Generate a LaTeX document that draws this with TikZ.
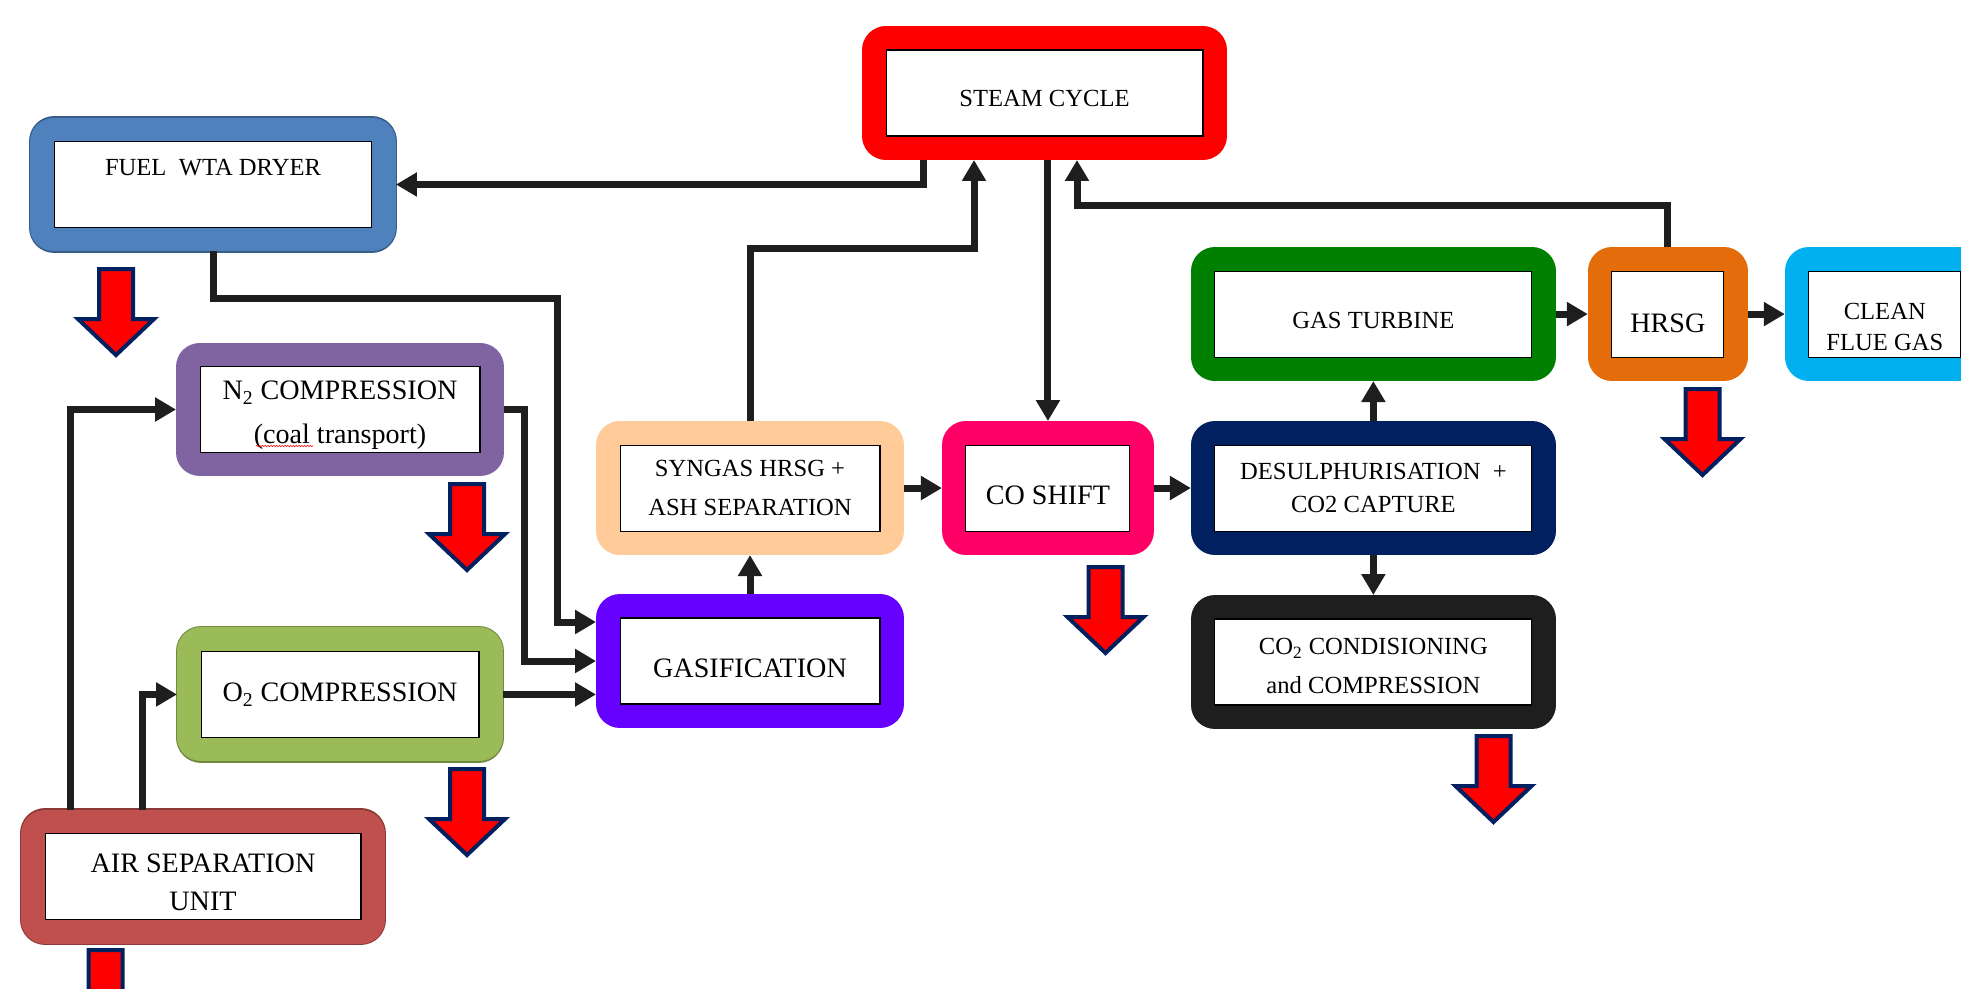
\documentclass[tikz,border=0pt]{standalone}
\usepackage{fontspec}
\setmainfont{Liberation Serif}
\usetikzlibrary{
  arrows.meta,  % Tip "Triangle"
  positioning,  % Function "of" (e.g. [right=of x])
  decorations.pathmorphing  % Decoration "snake"
}
\definecolor{fuelblue}{HTML}{4F81BD}
\definecolor{fueledge}{HTML}{385D8A}
\definecolor{steamred}{HTML}{FF0000}
\definecolor{ntwopurple}{HTML}{8064A2}
\definecolor{otwogreen}{HTML}{9BBB59}
\definecolor{otwoedge}{HTML}{71893F}
\definecolor{asured}{HTML}{C0504D}
\definecolor{asuedge}{HTML}{8C3836}
\definecolor{syngaspeach}{HTML}{FFCC99}
\definecolor{shiftpink}{HTML}{FF0066}
\definecolor{gasviolet}{HTML}{6600FF}
\definecolor{turbinegreen}{HTML}{008000}
\definecolor{hrsgorange}{HTML}{E46C0A}
\definecolor{cleanblue}{HTML}{00B0F0}
\definecolor{desulphnavy}{HTML}{002060}
\definecolor{condblack}{HTML}{1E1E1E}
\definecolor{flowgray}{HTML}{1E1E1E}
\def\myframe{0.96cm}
\def\mywide{6.34cm}
% strut that pushes the text of a box down
\def\dn#1{\rule{0pt}{#1pt}}
% heat loss arrow, (x,y) is the top of its shaft
\def\heatout(#1,#2){\draw[heat] (#1,#2) ++(-17,2) -- ++(34,0) -- ++(0,50)
  -- ++(21,0) -- ++(-38,36) -- ++(-38,-36) -- ++(21,0) -- cycle;}
\tikzset{
  font=\fontsize{14}{20}\selectfont,
  >={Triangle[length=0.42cm,width=0.46cm]},
  unit/.style={
    rectangle,
    draw=black,
    line width=0.6pt,
    fill=white,
    minimum height=1.72cm,
    inner sep=1pt,
    align=center,
    outer sep=0.48cm,
    preaction={draw=#1, line width=\myframe, line join=round}
  },
  edged/.style={
    preaction={draw=#1, line width=1.02cm, line join=round}
  },
  big/.style={font=\fontsize{16}{20}\selectfont},
  flow/.style={
    ->,
    draw=flowgray,
    line width=0.14cm
  },
  heat/.style={
    fill=red,
    draw=desulphnavy,
    line width=0.08cm,
    line join=miter
  },
  spelling/.style={
    draw=red,
    line width=0.3pt,
    decorate,
    decoration={snake, amplitude=0.4pt, segment length=1.6pt}
  }
}
\begin{document}
\begin{tikzpicture}[x=0.02cm, y=-0.02cm]
\useasboundingbox (0,0) rectangle (1961,988);
\clip (0,0) rectangle (1961,988);

% top and left
\node[unit=steamred, minimum width=\mywide] (steam) at (1044.5,93) {\dn{15}STEAM CYCLE};
\node[edged=fueledge, unit=fuelblue, minimum width=6.36cm] (fuel) at (213,184.5) {FUEL\ \ WTA DRYER\\~};
\node[unit=ntwopurple, font=\fontsize{16}{25}\selectfont, minimum width=5.6cm] (ntwo) at (340,409.5)
  {\dn{17.5}N\textsubscript{2} COMPRESSION\\(coal transport)};
\node[edged=otwoedge, unit=otwogreen, big, minimum width=5.56cm] (otwo) [below=3.02cm of ntwo] {O\textsubscript{2} COMPRESSION};
\node[edged=asuedge, unit=asured, font=\fontsize{16}{21.5}\selectfont, minimum width=6.32cm] (asu) at (203,876.5)
  {\dn{17.5}AIR SEPARATION\\UNIT};

% gas line
\node[unit=gasviolet, big, minimum width=5.2cm] (gasif) at (750,661) {\dn{19}GASIFICATION};
\node[unit=syngaspeach, font=\fontsize{14}{22.5}\selectfont, minimum width=5.2cm] (syngas) [above=0.78cm of gasif]
  {SYNGAS HRSG +\\ASH SEPARATION};
\node[unit=shiftpink, big, minimum width=3.28cm] (shift) [right=0.76cm of syngas] {\dn{19}CO SHIFT};
\node[unit=desulphnavy, font=\fontsize{14}{19}\selectfont, minimum width=\mywide] (desulph) [right=0.74cm of shift]
  {DESULPHURISATION\ \ +\\CO2 CAPTURE};
\node[unit=turbinegreen, minimum width=\mywide] (turbine) [above=0.8cm of desulph] {\dn{16}GAS TURBINE};
\node[unit=condblack, font=\fontsize{14}{22}\selectfont, minimum width=\mywide] (cond) [below=0.8cm of desulph]
  {\dn{14}CO\textsubscript{2} CONDISIONING\\and COMPRESSION};
\node[unit=hrsgorange, big, minimum width=2.24cm] (hrsg) [right=0.64cm of turbine] {\dn{21}HRSG};
\node[unit=cleanblue, font=\fontsize{14}{18}\selectfont, minimum width=3.04cm] (clean) [right=0.74cm of hrsg]
  {\dn{24}CLEAN\\FLUE GAS};

% spell check mark under "coal"
\draw[spelling] (256,446) -- (313,446);

% flows
\draw[flow] ([xshift=-2.43cm]steam.south) |- (fuel.east);
\draw[flow] (fuel.south) |- (557,298) |- ([yshift=0.78cm]gasif.west);
\draw[flow] ([xshift=-2.66cm]asu.north) |- (ntwo.west);
\draw[flow] ([xshift=-1.22cm]asu.north) |- (otwo.west);
\draw[flow] (ntwo.east) -- ++(21,0) |- (gasif.west);
\draw[flow] (otwo.east) -- (otwo.east -| gasif.west);
\draw[flow] (gasif.north) -- (syngas.south);
\draw[flow] (syngas.north) -- ++(0,-173) -| ([xshift=-1.41cm]steam.south);
\draw[flow] (steam.south -| shift.north) -- (shift.north);
\draw[flow] (syngas.east) -- (shift.west);
\draw[flow] (shift.east) -- (desulph.west);
\draw[flow] (desulph.north) -- (turbine.south);
\draw[flow] (desulph.south) -- (cond.north);
\draw[flow] (turbine.east) -- (hrsg.west);
\draw[flow] (hrsg.east) -- (clean.west);
\draw[flow] (hrsg.north) -- ++(0,-42) -| ([xshift=0.65cm]steam.south);

% heat losses
\heatout(116,267)
\heatout(467,482)
\heatout(467,767)
\heatout(105.5,948)
\heatout(1105.5,565)
\heatout(1702.5,387)
\heatout(1493.5,734)
\end{tikzpicture}
\end{document}
